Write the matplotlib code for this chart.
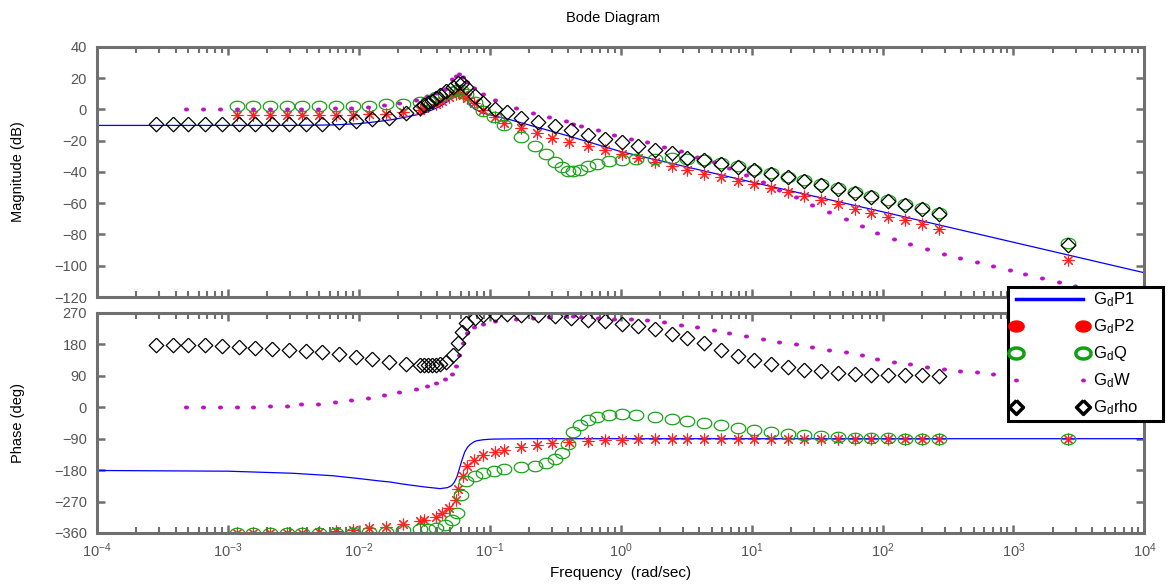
import matplotlib
matplotlib.use("Agg")
import matplotlib.pyplot as plt
import numpy as np
from matplotlib.path import Path
from matplotlib.lines import Line2D
from matplotlib.ticker import LogLocator, NullFormatter

plt.rcParams["font.family"] = ["Liberation Sans", "DejaVu Sans"]
plt.rcParams["mathtext.fontset"] = "custom"
plt.rcParams["mathtext.rm"] = "Liberation Sans"
plt.rcParams["mathtext.it"] = "Liberation Sans:italic"

# --- data (log10 of frequency in rad/sec, magnitude in dB, phase in deg) ---
# G_d P1 : continuous response
p1_logw = [-4, -3, -2.5, -2.2, -2.0, -1.84, -1.76, -1.66, -1.5, -1.4, -1.38,
           -1.32, -1.29, -1.27, -1.25, -1.23, -1.21, -1.19, -1.17, -1.15, -1.12,
           -1.1, -1.05, -1.0, -0.95, -0.85, -0.7, -0.4, 0, 1, 2, 3, 4]
p1_mag = [-10.3, -10.3, -10.3, -10, -9.2, -7.7, -6.8, -5.3, -2.5, 1, 1.8,
          5, 7.5, 9, 10.5, 11.2, 10.5, 8.5, 5.5, 3, 0.5,
          -0.5, -2.5, -3.5, -4.5, -6.5, -10, -17, -27, -46.5, -65.5, -85, -104.5]
p1_phase = [-181, -183, -189, -196, -204, -211, -214, -220, -228, -232, -233,
            -230, -224, -215, -200, -175, -150, -128, -115, -107, -99,
            -96, -93, -91.5, -91, -90.5, -90, -90, -90, -90, -90, -90, -90]

# G_d P2 : estimated points
p2_logw = [-2.93, -2.81, -2.68, -2.55, -2.43, -2.30, -2.17, -2.04, -1.92, -1.79, -1.66,
           -1.53, -1.50, -1.41, -1.36, -1.31, -1.26, -1.24, -1.20, -1.17, -1.12,
           -1.05, -0.96, -0.89, -0.76, -0.64, -0.52, -0.39, -0.25, -0.12, 0.01,
           0.13, 0.26, 0.39, 0.51, 0.64, 0.77, 0.90, 1.02, 1.15, 1.28,
           1.40, 1.53, 1.66, 1.79, 1.91, 2.04, 2.17, 2.30, 2.43, 3.42]
p2_mag = [-3.8, -3.8, -3.8, -3.8, -3.8, -3.8, -3.8, -3.8, -3.2, -2.8, -2.0,
          -0.2, 0.8, 3.6, 5, 8, 10, 11, 9, 7, 4,
          -0.6, -5, -8.5, -12, -15, -18.1, -20.9, -23.6, -26.2, -28.3,
          -30.9, -33.7, -36.2, -38.5, -41.1, -43.2, -45.8, -47.9, -50.5, -53,
          -55.6, -58.2, -60.7, -63.5, -66, -68.8, -70.9, -73.5, -76.3, -96.5]
p2_phase = [-360, -360, -360, -360, -359, -357, -354, -350, -347, -342, -334,
            -326, -323, -314, -304, -288, -266, -235, -196, -168, -152,
            -137, -128, -122, -113, -108, -102, -99, -96, -94, -93,
            -92, -91, -90, -90, -90, -90, -90, -90, -90, -90,
            -90, -90, -90, -90, -90, -90, -90, -90, -90, -90]

# G_d Q
q_logw = [-2.93, -2.81, -2.68, -2.55, -2.43, -2.30, -2.17, -2.04, -1.92, -1.79, -1.66,
          -1.53, -1.47, -1.41, -1.34, -1.29, -1.25, -1.22, -1.18, -1.11, -1.05,
          -0.97, -0.89, -0.76, -0.65, -0.57, -0.50, -0.45, -0.40, -0.36, -0.31,
          -0.25, -0.18, -0.09, 0.01, 0.12, 0.26, 0.39, 0.51, 0.64, 0.77,
          0.90, 1.02, 1.15, 1.28, 1.40, 1.53, 1.66, 1.79, 1.91, 2.04,
          2.17, 2.30, 2.43, 3.42]
q_mag = [2.3, 2.3, 2.3, 2.3, 2.3, 2.3, 2.3, 2.3, 2.3, 3.2, 3.6,
         4.7, 5.5, 7.9, 9.5, 11, 12.6, 12.6, 9.5, 4.5, -0.8,
         -5, -10.2, -17.7, -23.6, -28.3, -33.7, -37, -39.2, -39.5, -38.5,
         -36.5, -34.7, -33, -32.6, -32, -31.5, -31, -31.5, -32.5, -34.5,
         -36.5, -38.5, -40.7, -43, -45.3, -48, -50.5, -53, -55.5, -58,
         -60.8, -63.4, -66, -85.4]
q_phase = [-360, -360, -360, -360, -360, -360, -360, -359, -357, -356, -352,
           -349, -348, -346, -338, -324, -303, -250, -212, -197, -188,
           -182, -177, -172, -168, -160, -147, -131, -104, -72, -50,
           -36, -28, -23, -20, -22, -27, -34, -39, -45, -51,
           -58, -65, -71, -75.5, -80, -83, -85, -87, -88, -89,
           -89.5, -90, -90, -90]

# G_d W
w_logw = [-3.32, -3.19, -3.06, -2.93, -2.81, -2.68, -2.55, -2.44, -2.31, -2.18,
          -2.06, -1.93, -1.81, -1.69, -1.56, -1.48, -1.41, -1.34, -1.29, -1.26,
          -1.23, -1.20, -1.17, -1.12, -1.05, -0.96, -0.80, -0.67, -0.55, -0.42,
          -0.36, -0.30, -0.17, -0.05, 0.08, 0.20, 0.33, 0.46, 0.58, 0.71,
          0.83, 0.96, 1.09, 1.21, 1.34, 1.46, 1.59, 1.72, 1.84, 1.96,
          2.09, 2.21, 2.34, 2.47, 2.59, 2.72, 2.84, 2.97, 3.09, 3.22,
          3.35, 3.47]
w_mag = [0, 0, 0, 0, 0, 0, 0, 0.5, 0.5, 1,
         1, 1.5, 2.6, 4, 6.2, 8.3, 10.7, 13.2, 19.6, 21,
         22.4, 20.6, 17.5, 13.9, 10, 6.2, 1, -2.1, -4.9, -7.7,
         -9.2, -10.9, -13.4, -16.2, -18.7, -21.1, -24.1, -26.8, -30.3, -34,
         -37.5, -42.2, -46.4, -51.3, -56, -60.9, -65.6, -70.3, -74.8, -79,
         -82.6, -86.3, -89.5, -92.2, -95, -97.8, -100.1, -102.9, -105.4, -108,
         -110.5, -112.9]
w_phase = [0, 0, 0.5, 0.5, 1.5, 2.8, 4.8, 8, 10.5, 15,
           20, 26.8, 34.4, 44, 53.5, 60, 69.8, 80, 96.5, 117.5,
           151, 185, 213, 230, 238, 246.5, 254, 257, 259, 260,
           261, 259, 255, 253, 253, 251, 244.5, 237, 230, 222.6,
           213, 204, 196, 188, 181, 173, 165, 157, 149, 139.5,
           130, 123, 115.5, 109, 103, 100, 96.5, 94, 92, 91,
           90, 90]

# G_d rho
rho_logw = [-3.55, -3.42, -3.30, -3.17, -3.04, -2.91, -2.79, -2.66, -2.53, -2.40,
            -2.28, -2.15, -2.02, -1.90, -1.77, -1.64, -1.53, -1.50, -1.47, -1.44,
            -1.41, -1.38, -1.33, -1.28, -1.24, -1.21, -1.18, -1.11, -1.05, -0.96,
            -0.87, -0.76, -0.63, -0.50, -0.38, -0.25, -0.12, 0.01, 0.13, 0.26,
            0.39, 0.51, 0.64, 0.77, 0.90, 1.02, 1.15, 1.28, 1.40, 1.53,
            1.66, 1.79, 1.91, 2.04, 2.17, 2.30, 2.43, 3.42]
rho_mag = [-9.1, -9.1, -9.1, -9.1, -9.1, -9.1, -9.1, -9.1, -9.1, -9.1,
           -9.1, -8.1, -7.5, -6.4, -5.5, -2.5, 1, 2.5, 4, 5.5,
           7, 9, 11.5, 14.5, 16.5, 17, 14.3, 8.5, 4, 0.4,
           -1.5, -5.3, -8.1, -10.9, -13.4, -16.6, -18.7, -20.9, -23.6, -25.8,
           -27.9, -31, -32.6, -35, -37, -39, -41.2, -43.5, -45.8, -48.6,
           -51.1, -53.5, -56, -58.6, -61.3, -63.9, -66.7, -86.5]
rho_phase = [178, 178, 178, 178, 176, 173, 170, 168, 165, 161,
             158, 152, 144, 137, 130, 125, 122, 121, 121, 121,
             122, 124, 130, 150, 183, 216, 242, 257, 264, 266,
             266, 265, 264, 262, 255, 250, 247, 239, 232, 223,
             211, 197, 183, 163, 146, 134, 123, 116, 108, 104,
             99, 96, 93, 92, 92, 92, 90, 90]

labels = [r"G$_\mathrm{d}$P1", r"G$_\mathrm{d}$P2", r"G$_\mathrm{d}$Q",
          r"G$_\mathrm{d}$W", r"G$_\mathrm{d}$rho"]
mag_ticks = [-120, -100, -80, -60, -40, -20, 0, 20, 40]
phase_ticks = [-360, -270, -180, -90, 0, 90, 180, 270]

# --- styles ---
c_blue = "#0000ff"
c_red = "#ff2020"
c_green = "#1aa31a"
c_mag = "#c010c8"
c_spine = "#6f6f6f"
c_tick = "#555555"

t = np.linspace(0, 2 * np.pi, 41)
ellipse = Path(np.column_stack([np.cos(t), 0.72 * np.sin(t)]))
diamond = Path([(0, 1), (1, 0), (0, -1), (-1, 0), (0, 1)])
dot = Path(np.column_stack([np.cos(t), 0.8 * np.sin(t)]))


def style_axes(ax):
    ax.set_xscale("log")
    ax.set_xlim(1e-4, 1e4)
    ax.set_xticks([10.0 ** k for k in range(-4, 5)])
    ax.xaxis.set_minor_locator(LogLocator(base=10, subs=np.arange(2, 10), numticks=100))
    ax.xaxis.set_minor_formatter(NullFormatter())
    for s in ax.spines.values():
        s.set_color(c_spine)
        s.set_linewidth(2.2)
    ax.tick_params(which="both", direction="in", top=True, right=True,
                   color=c_spine, labelcolor=c_tick)
    ax.tick_params(axis="y", labelsize=10.5, pad=7)
    ax.tick_params(axis="x", labelsize=10.5, pad=6)
    ax.tick_params(which="major", length=6, width=1.8)
    ax.tick_params(which="minor", length=4, width=1.5)


def draw(ax, key):
    vals = {"mag": (p1_mag, p2_mag, q_mag, w_mag, rho_mag),
            "phase": (p1_phase, p2_phase, q_phase, w_phase, rho_phase)}[key]
    ax.plot(10.0 ** np.array(p1_logw), vals[0], color=c_blue, lw=0.9)
    ax.plot(10.0 ** np.array(p2_logw), vals[1], ls="none", marker=(8, 2, 0),
            ms=8.5, mec=c_red, mew=0.8)
    ax.plot(10.0 ** np.array(q_logw), vals[2], ls="none", marker=ellipse,
            ms=10.5, mfc="none", mec=c_green, mew=0.9)
    ax.plot(10.0 ** np.array(w_logw), vals[3], ls="none", marker=dot,
            ms=3.6, mfc=c_mag, mec=c_mag, mew=0)
    ax.plot(10.0 ** np.array(rho_logw), vals[4], ls="none", marker=diamond,
            ms=10.5, mfc="none", mec="black", mew=0.9)


fig = plt.figure(figsize=(11.75, 5.87), dpi=100)
ax1 = fig.add_axes([0.0823, 0.494, 0.8917, 0.4264])
ax2 = fig.add_axes([0.0823, 0.092, 0.8917, 0.3748])

style_axes(ax1)
draw(ax1, "mag")
ax1.set_ylim(-120, 40)
ax1.set_yticks(mag_ticks)
ax1.xaxis.set_major_formatter(NullFormatter())
ax1.set_ylabel("Magnitude (dB)", fontsize=10.5, color="black")
ax1.yaxis.set_label_coords(-0.0684, 0.5)

style_axes(ax2)
draw(ax2, "phase")
ax2.set_ylim(-360, 270)
ax2.set_yticks(phase_ticks)
ax2.set_ylabel("Phase (deg)", fontsize=10.5, color="black")
ax2.yaxis.set_label_coords(-0.0684, 0.5)
ax2.set_xlabel("Frequency  (rad/sec)", fontsize=11, color="black")
ax2.xaxis.set_label_coords(0.5, -0.15)

fig.text(613 / 1175, 1 - 18 / 587, "Bode Diagram", ha="center", va="center",
         fontsize=10.5, color="black")

handles = [
    Line2D([], [], color=c_blue, lw=2.5),
    Line2D([], [], ls="none", marker=ellipse, ms=11, mfc="red", mec="red"),
    Line2D([], [], ls="none", marker=ellipse, ms=11, mfc="none", mec="#10a010", mew=2.5),
    Line2D([], [], ls="none", marker=dot, ms=3.5, mfc=c_mag, mec=c_mag, mew=0),
    Line2D([], [], ls="none", marker=diamond, ms=10, mfc="none", mec="black", mew=2.5),
]
leg_w = 155 / 1175
leg_h = 132 / 587
leg = fig.legend(handles, labels, loc="upper left",
                 bbox_to_anchor=(1008 / 1175, 1 - 287 / 587 - leg_h, leg_w, leg_h),
                 mode="expand", numpoints=2, handlelength=4.6, handletextpad=0.3,
                 labelspacing=0.5, borderpad=0.2, borderaxespad=0, fontsize=12,
                 fancybox=False, framealpha=1, edgecolor="black")
leg.get_frame().set_linewidth(2.2)

fig.savefig("out.png", dpi=100)
